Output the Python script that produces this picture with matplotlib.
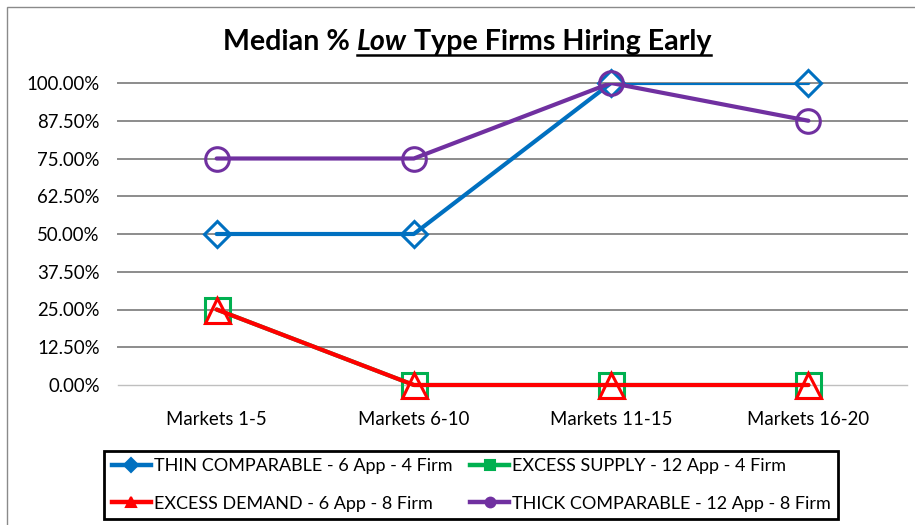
import matplotlib
matplotlib.use('Agg')
import matplotlib.pyplot as plt
from matplotlib.lines import Line2D
from matplotlib.patches import Rectangle
from matplotlib.ticker import FixedLocator, FuncFormatter

# ---------------- data ----------------
categories = ["Markets 1-5", "Markets 6-10", "Markets 11-15", "Markets 16-20"]
thin_comparable = [0.50, 0.50, 1.00, 1.00]
excess_supply = [0.25, 0.00, 0.00, 0.00]
excess_demand = [0.25, 0.00, 0.00, 0.00]
thick_comparable = [0.75, 0.75, 1.00, 0.875]
y_ticks = [0.0, 0.125, 0.25, 0.375, 0.5, 0.625, 0.75, 0.875, 1.0]
series_names = ["THIN COMPARABLE - 6 App - 4 Firm",
                "EXCESS SUPPLY - 12 App - 4 Firm",
                "EXCESS DEMAND - 6 App - 8 Firm",
                "THICK COMPARABLE - 12 App - 8 Firm"]

FONT = ['Lato', 'DejaVu Sans']
W, H = 915, 525
fig = plt.figure(figsize=(W / 100, H / 100), dpi=100)
fig.patch.set_facecolor('white')
renderer = fig.canvas.get_renderer()


def text_width(s, size, weight='normal', style='normal'):
    t = fig.text(0, 0, s, fontsize=size, family=FONT, weight=weight, style=style)
    w = t.get_window_extent(renderer).width
    t.remove()
    return w


def fit(s, px, weight='normal', style='normal'):
    return 10 * px / text_width(s, 10, weight, style)


# outer chart border (only top/left visible in the crop)
fig.add_artist(Rectangle((7 / W, -0.1), 1.2, 1 - 7 / H + 0.1, transform=fig.transFigure,
                         fill=False, edgecolor='#8a8a8a', lw=1.0))

ax = fig.add_axes([118 / W, 1 - 385 / H, (907 - 118) / W, (385 - 83) / H])
ax.set_xlim(-0.5, 3.5)
ax.set_ylim(0, 1)
for s in ax.spines.values():
    s.set_visible(False)

tick_fs = fit("100.00%", 73)
ax.yaxis.set_major_locator(FixedLocator(y_ticks))
ax.yaxis.set_major_formatter(FuncFormatter(lambda v, p: f"{v * 100:.2f}%"))
ax.set_xticks(range(len(categories)))
ax.set_xticklabels(categories)
ax.tick_params(axis='both', length=0, labelsize=tick_fs, colors='black')
ax.tick_params(axis='y', pad=13)
ax.tick_params(axis='x', pad=19)
for lab in ax.get_xticklabels() + ax.get_yticklabels():
    lab.set_family(FONT)

for v in y_ticks:
    if v == 0:
        ax.axhline(v, color='#bfbfbf', lw=1.0, zorder=1, clip_on=False)
    else:
        ax.axhline(v, color='#8c8c8c', lw=1.4, zorder=1, clip_on=False)

x = list(range(len(categories)))
styles = [
    (thin_comparable, '#0070C0', 'D', 13),
    (excess_supply, '#00B050', 's', 18),
    (excess_demand, '#FF0000', '^', 18),
    (thick_comparable, '#7030A0', 'o', 17),
]
clip_rect = Rectangle((0, -0.3), 1, 1.3, transform=ax.transAxes, visible=False)
ax.add_patch(clip_rect)
handles = []
for i, (vals, col, mk, ms) in enumerate(styles):
    ln, = ax.plot(x, vals, color=col, lw=3.0, zorder=3 + i * 2, solid_capstyle='round')
    ln.set_clip_path(clip_rect)
    ax.plot(x, vals, linestyle='none', marker=mk, ms=ms, mfc='none', mec=col, mew=2.2,
            zorder=4 + i * 2, clip_on=False)
    handles.append(Line2D([], [], color=col, lw=3.2, marker=mk, ms=7, mfc=col, mec=col,
                          mew=1.5))

# legend
leg_fs = fit(series_names[0], 297)
fpx = leg_fs * 100 / 72
order = [0, 2, 1, 3]
leg = fig.legend([handles[i] for i in order], [series_names[i] for i in order],
                 ncol=2, loc='upper left', bbox_to_anchor=(104 / W, 1 - 451 / H),
                 bbox_transform=fig.transFigure, borderaxespad=0,
                 prop={'family': FONT, 'size': leg_fs},
                 handlelength=39 / fpx, handletextpad=3 / fpx, columnspacing=18 / fpx,
                 borderpad=7.5 / fpx, labelspacing=21 / fpx, fancybox=False,
                 frameon=True, framealpha=1, edgecolor='black')
leg.get_frame().set_linewidth(2)

# title with mixed styling
title_fs = fit("Median % Low Type Firms Hiring Early", 494, weight='bold')
p1, p2, p3 = "Median %", "Low", "Type Firms Hiring Early"
w1 = text_width(p1, title_fs, 'bold')
w2 = text_width(p2, title_fs, 'bold', 'italic')
w3 = text_width(p3, title_fs, 'bold')
sp = text_width("M M", title_fs, 'bold') - text_width("MM", title_fs, 'bold')
total = w1 + sp + w2 + sp + w3
x0 = 467 - total / 2
yb = 1 - 50 / H
fig.text(x0 / W, yb, p1, fontsize=title_fs, family=FONT, weight='bold', va='baseline')
fig.text((x0 + w1 + sp) / W, yb, p2, fontsize=title_fs, family=FONT, weight='bold',
         style='italic', va='baseline')
fig.text((x0 + w1 + sp + w2 + sp) / W, yb, p3, fontsize=title_fs, family=FONT,
         weight='bold', va='baseline')
uy = 1 - 55 / H
fig.add_artist(Line2D([(x0 + w1 + sp) / W, (x0 + total) / W], [uy, uy],
                      transform=fig.transFigure, color='black', lw=1.8))

fig.savefig('out.png', dpi=100)
